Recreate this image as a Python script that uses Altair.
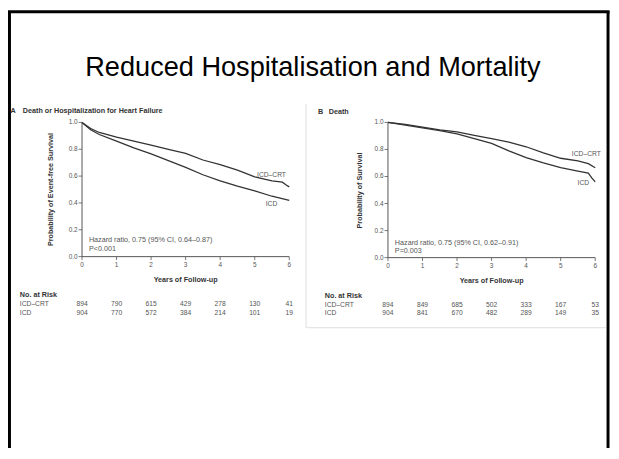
import altair as alt
import pandas as pd

# ---------------- data ----------------
years = [0, 1, 2, 3, 4, 5, 6]
y_ticks = [0.0, 0.2, 0.4, 0.6, 0.8, 1.0]

A_crt_t = [0, 0.25, 0.5, 1, 1.5, 2, 2.5, 3, 3.5, 4, 4.5, 5, 5.5, 5.8, 5.9, 6]
A_crt_v = [1.0, 0.955, 0.925, 0.89, 0.86, 0.83, 0.80, 0.77, 0.72, 0.685, 0.645, 0.595, 0.565, 0.555, 0.535, 0.52]
A_icd_t = [0, 0.25, 0.5, 1, 1.5, 2, 2.5, 3, 3.5, 4, 4.5, 5, 5.5, 6]
A_icd_v = [1.0, 0.945, 0.91, 0.86, 0.81, 0.765, 0.715, 0.665, 0.61, 0.565, 0.525, 0.49, 0.45, 0.42]

B_crt_t = [0, 0.5, 1, 1.5, 2, 2.5, 3, 3.5, 4, 4.5, 5, 5.5, 5.8, 6]
B_crt_v = [1.0, 0.985, 0.965, 0.945, 0.93, 0.905, 0.88, 0.855, 0.82, 0.775, 0.735, 0.715, 0.695, 0.665]
B_icd_t = [0, 0.5, 1, 1.5, 2, 2.5, 3, 3.5, 4, 4.5, 5, 5.5, 5.8, 5.9, 6]
B_icd_v = [1.0, 0.98, 0.96, 0.94, 0.915, 0.88, 0.845, 0.79, 0.74, 0.70, 0.665, 0.64, 0.625, 0.59, 0.56]

A_risk_crt = [894, 790, 615, 429, 278, 130, 41]
A_risk_icd = [904, 770, 572, 384, 214, 101, 19]
B_risk_crt = [894, 849, 685, 502, 333, 167, 53]
B_risk_icd = [904, 841, 670, 482, 289, 149, 35]

series_names = ["ICD\u2013CRT", "ICD"]

FONT = "Liberation Sans"
DARK = "#333333"
GREY = "#555555"
SMALL = 6.8
HEAD = 7.3

one = pd.DataFrame({"a": [0]})
layers = []


def txt(text, x, y, size=SMALL, bold=False, align="left", angle=0, color=GREY, font=FONT):
    kw = dict(text=text, fontSize=size, font=font, align=align, baseline="middle",
              color=color, fontWeight="bold" if bold else "normal")
    if angle:
        kw["angle"] = angle
    return alt.Chart(one).mark_text(**kw).encode(x=alt.value(x), y=alt.value(y))


def rule(x, y, x2=None, y2=None, color="black", width=1.0):
    enc = dict(x=alt.value(x), y=alt.value(y))
    if x2 is not None:
        enc["x2"] = alt.value(x2)
    if y2 is not None:
        enc["y2"] = alt.value(y2)
    return alt.Chart(one).mark_rule(color=color, strokeWidth=width).encode(**enc)


def panel(xr, yr, crt_t, crt_v, icd_t, icd_v, risk_crt, risk_icd, risk_y):
    xs = alt.Scale(domain=[0, 6], range=xr, nice=False, zero=False)
    ys = alt.Scale(domain=[0, 1], range=yr, nice=False, zero=False)

    def X(f):
        return alt.X(f, scale=xs, axis=None)

    def Y(f):
        return alt.Y(f, scale=ys, axis=None)

    out = []
    # axis lines
    out.append(alt.Chart(one).mark_rule(color=GREY, strokeWidth=1).encode(
        x=alt.value(xr[0]), y=Y("y0:Q"), y2="y1:Q"
    ).transform_calculate(y0="0", y1="1"))
    out.append(alt.Chart(one).mark_rule(color=GREY, strokeWidth=1).encode(
        y=alt.value(yr[0]), x=X("x0:Q"), x2="x1:Q"
    ).transform_calculate(x0="0", x1="6"))
    # y ticks + labels
    ydf = pd.DataFrame({"v": y_ticks})
    out.append(alt.Chart(ydf).mark_rule(color=GREY, strokeWidth=0.8).encode(
        x=alt.value(xr[0] - 3.5), x2=alt.value(xr[0]), y=Y("v:Q")))
    out.append(alt.Chart(ydf).mark_text(fontSize=6.5, font=FONT, color=GREY, align="right",
                                        baseline="middle").encode(
        x=alt.value(xr[0] - 4.5), y=Y("v:Q"), text=alt.Text("v:Q", format=".1f")))
    # x ticks + labels
    xdf = pd.DataFrame({"t": years})
    out.append(alt.Chart(xdf).mark_rule(color=GREY, strokeWidth=0.8).encode(
        x=X("t:Q"), y=alt.value(yr[0]), y2=alt.value(yr[0] + 3.5)))
    out.append(alt.Chart(xdf).mark_text(fontSize=6.5, font=FONT, color=GREY, align="center",
                                        baseline="middle").encode(
        x=X("t:Q"), y=alt.value(yr[0] + 9), text="t:Q"))
    # curves
    cdf = pd.concat([
        pd.DataFrame({"t": crt_t, "v": crt_v, "s": series_names[0]}),
        pd.DataFrame({"t": icd_t, "v": icd_v, "s": series_names[1]}),
    ])
    out.append(alt.Chart(cdf).mark_line(color="#333333", strokeWidth=1.3).encode(
        x=X("t:Q"), y=Y("v:Q"), detail="s:N"))
    # risk table numbers
    for nums, yy in ((risk_crt, risk_y[0]), (risk_icd, risk_y[1])):
        rdf = pd.DataFrame({"t": years, "n": nums})
        out.append(alt.Chart(rdf).mark_text(fontSize=SMALL, font=FONT, color=GREY, align="center",
                                            baseline="middle").encode(
            x=X("t:Q"), y=alt.value(yy), text="n:Q"))
    return out


# ---------------- slide frame & title ----------------
layers.append(rule(1.5, 0, y2=443, width=3))
layers.append(rule(0, 0.8, x2=609.5, width=3))
layers.append(rule(608, 0, y2=443, width=3))
layers.append(txt("Reduced Hospitalisation and Mortality", 309, 58, size=27.5, align="center",
                  color="black", font="Liberation Sans"))

# ---------------- panel A ----------------
layers += panel([75, 285], [249, 113], A_crt_t, A_crt_v, A_icd_t, A_icd_v,
                A_risk_crt, A_risk_icd, (297, 306))
layers.append(txt("A", 2.5, 101, size=HEAD, bold=True, color=DARK))
layers.append(txt("Death or Hospitalization for Heart Failure", 15, 101, size=HEAD, bold=True, color=DARK))
layers.append(txt("Probability of Event-free Survival", 44, 181, size=HEAD, bold=True, align="center",
                  angle=270, color=DARK))
layers.append(txt("Years of Follow-up", 180, 273, size=HEAD, bold=True, align="center", color=DARK))
layers.append(txt("Hazard ratio, 0.75 (95% CI, 0.64\u20130.87)", 82, 232, size=7.3))
layers.append(txt("P<0.001", 82, 241, size=7.3))
layers.append(txt("ICD\u2013CRT", 267, 166, align="center"))
layers.append(txt("ICD", 267, 196, align="center"))
layers.append(txt("No. at Risk", 12, 288, size=HEAD, bold=True, color=DARK))
layers.append(txt("ICD\u2013CRT", 12, 297))
layers.append(txt("ICD", 12, 306))

# ---------------- panel B ----------------
layers.append(rule(302, 94, y2=321, color="#dddddd", width=1))
layers.append(rule(302, 321, x2=606, color="#dddddd", width=1))
layers += panel([385, 595], [250, 113], B_crt_t, B_crt_v, B_icd_t, B_icd_v,
                B_risk_crt, B_risk_icd, (298, 306))
layers.append(txt("B", 314, 102, size=HEAD, bold=True, color=DARK))
layers.append(txt("Death", 325, 102, size=HEAD, bold=True, color=DARK))
layers.append(txt("Probability of Survival", 357, 182, size=HEAD, bold=True, align="center",
                  angle=270, color=DARK))
layers.append(txt("Years of Follow-up", 490, 274, size=HEAD, bold=True, align="center", color=DARK))
layers.append(txt("Hazard ratio, 0.75 (95% CI, 0.62\u20130.91)", 392, 235, size=7.3))
layers.append(txt("P=0.003", 392, 243, size=7.3))
layers.append(txt("ICD\u2013CRT", 586, 145, align="center"))
layers.append(txt("ICD", 583, 174, align="center"))
layers.append(txt("No. at Risk", 321, 289, size=HEAD, bold=True, color=DARK))
layers.append(txt("ICD\u2013CRT", 321, 298))
layers.append(txt("ICD", 321, 306))

chart = alt.layer(*layers).resolve_scale(x="independent", y="independent").properties(
    width=611, height=443, padding=0,
    autosize=alt.AutoSizeParams(type="none"),
).configure_view(stroke=None)

chart.save("out.html", embed_options={"renderer": "svg", "actions": False})
